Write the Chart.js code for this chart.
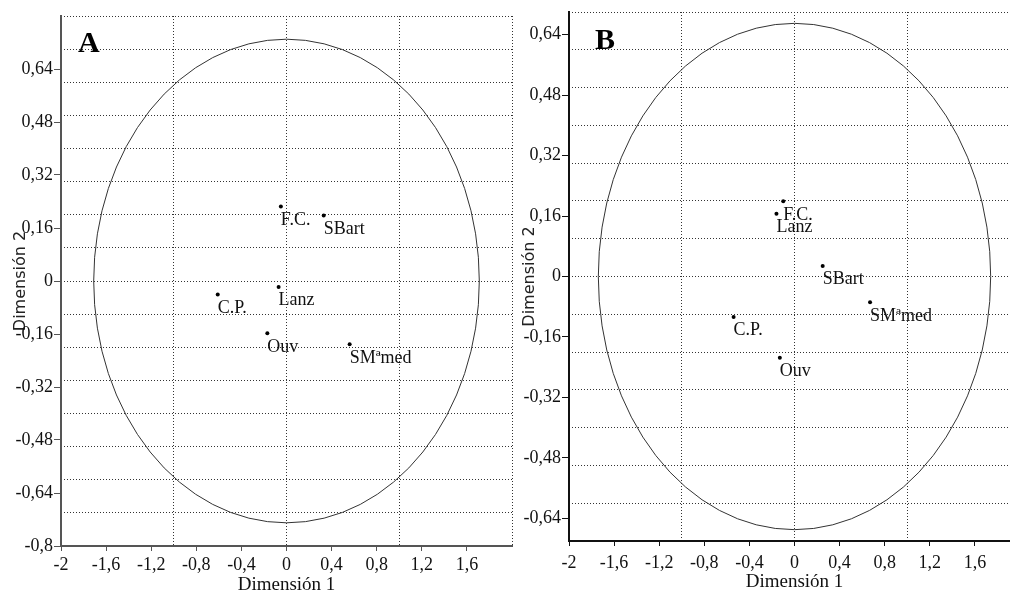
<!DOCTYPE html>
<html>
<head>
<meta charset="utf-8">
<script src="https://cdn.jsdelivr.net/npm/chart.js@4"></script>
<style>
    body { margin: 0; background: #fff; overflow: hidden; width: 1010px; height: 591px; position: relative; }
    .panel { position: absolute; top: 0; }
    #panelA { left: 0; }
    #panelB { left: 512px; }
</style>
</head>
<body>
<div class="panel" id="panelA"><canvas id="chartA" width="520" height="600"></canvas></div>
<div class="panel" id="panelB"><canvas id="chartB" width="518" height="600"></canvas></div>
<script>
// site names (same order in both panels)
const sites = ['F.C.', 'SBart', 'Lanz', 'C.P.', 'Ouv', 'SMªmed'];

// panel A coordinates
const dim1A = [-0.05, 0.33, -0.07, -0.61, -0.17, 0.56];
const dim2A = [0.225, 0.198, -0.018, -0.041, -0.158, -0.191];

// panel B coordinates
const dim1B = [-0.10, 0.25, -0.16, -0.54, -0.13, 0.67];
const dim2B = [0.199, 0.028, 0.166, -0.107, -0.215, -0.068];

// tick labels and grid positions
const xTicks = [-2, -1.6, -1.2, -0.8, -0.4, 0, 0.4, 0.8, 1.2, 1.6];
const xGrid = [-2, -1, 0, 1, 2];
const yTicksA = [-0.8, -0.64, -0.48, -0.32, -0.16, 0, 0.16, 0.32, 0.48, 0.64];
const yGridA = [-0.8, -0.7, -0.6, -0.5, -0.4, -0.3, -0.2, -0.1, 0, 0.1, 0.2, 0.3, 0.4, 0.5, 0.6, 0.7, 0.8];
const yTicksB = [-0.64, -0.48, -0.32, -0.16, 0, 0.16, 0.32, 0.48, 0.64];
const yGridB = [-0.7, -0.6, -0.5, -0.4, -0.3, -0.2, -0.1, 0, 0.1, 0.2, 0.3, 0.4, 0.5, 0.6, 0.7];

// confidence ellipse radii (dimension units)
const ellipseA = { rx: 1.71, ry: 0.73 };
const ellipseB = { rx: 1.74, ry: 0.67 };

const serif = "'Liberation Serif', 'Times New Roman', serif";
const sans = "'DejaVu Sans', Verdana, sans-serif";
const fmt = v => String(v).replace('.', ',');
const setTicks = values => scale => { scale.ticks = values.map(v => ({ value: v })); };

const ellipsePlugin = {
    id: 'ellipse',
    beforeDatasetsDraw(chart, args, opts) {
        const { ctx, scales: { x, y } } = chart;
        const cx = x.getPixelForValue(0);
        const cy = y.getPixelForValue(0);
        const rx = x.getPixelForValue(opts.rx) - cx;
        const ry = cy - y.getPixelForValue(opts.ry);
        ctx.save();
        ctx.strokeStyle = '#333';
        ctx.lineWidth = 1;
        ctx.beginPath();
        ctx.ellipse(cx, cy, rx, ry, 0, 0, Math.PI * 2);
        ctx.stroke();
        ctx.restore();
    }
};

const labelPlugin = {
    id: 'siteLabels',
    afterDatasetsDraw(chart, args, opts) {
        const { ctx } = chart;
        const meta = chart.getDatasetMeta(0);
        ctx.save();
        ctx.fillStyle = '#111';
        ctx.font = '18px ' + serif;
        ctx.textBaseline = 'alphabetic';
        ctx.textAlign = 'left';
        meta.data.forEach((pt, i) => {
            ctx.fillText(sites[i], pt.x, pt.y + 18.5);
        });
        // panel letter
        ctx.font = 'bold 30px ' + serif;
        ctx.fillStyle = '#000';
        ctx.fillText(opts.letter, opts.lx, opts.ly);
        ctx.restore();
    }
};

function buildPanel(id, p) {
    const axisColor = p.axisColor;
    new Chart(document.getElementById(id), {
        type: 'scatter',
        data: {
            datasets: [{
                data: p.d1.map((v, i) => ({ x: v, y: p.d2[i] })),
                pointRadius: 2,
                pointBorderWidth: 0,
                pointBackgroundColor: '#000'
            }]
        },
        options: {
            responsive: false,
            animation: false,
            layout: { padding: { top: p.top, right: p.right, left: 0, bottom: 0 } },
            plugins: {
                legend: { display: false },
                tooltip: { enabled: false },
                ellipse: p.ellipse,
                siteLabels: { letter: p.letter, lx: p.lx, ly: p.ly }
            },
            scales: {
                x: {
                    type: 'linear', position: 'bottom', min: -2, max: 2,
                    afterBuildTicks: setTicks(xTicks),
                    afterFit: s => { s.height = p.xHeight; },
                    grid: { drawOnChartArea: false, drawTicks: true, tickLength: 5, tickColor: axisColor, tickWidth: 1 },
                    border: { display: true, color: axisColor, width: 2 },
                    ticks: { callback: fmt, padding: p.xPad, color: '#111', font: { family: serif, size: 18 }, maxRotation: 0, autoSkip: false },
                    title: { display: true, text: 'Dimensión 1', color: '#111', font: { family: serif, size: 19 }, padding: { top: 0, bottom: p.xTitlePad } }
                },
                y: {
                    type: 'linear', position: 'left', min: p.yMin, max: p.yMax,
                    afterBuildTicks: setTicks(p.yTicks),
                    afterFit: s => { s.width = p.yWidth; },
                    grid: { drawOnChartArea: false, drawTicks: true, tickLength: 7, tickColor: axisColor, tickWidth: 1 },
                    border: { display: true, color: axisColor, width: 2 },
                    ticks: { callback: fmt, padding: 1, color: '#111', font: { family: serif, size: 18 }, autoSkip: false },
                    title: { display: true, text: 'Dimensión 2', color: '#222', font: { family: sans, size: 16 }, padding: { top: p.yTitlePad, bottom: 0 } }
                },
                xg: {
                    type: 'linear', position: 'top', min: -2, max: 2,
                    afterBuildTicks: setTicks(xGrid),
                    afterFit: s => { s.height = 0; },
                    ticks: { display: false },
                    border: { display: false, dash: [1, 2] },
                    grid: { drawTicks: false, color: '#333', lineWidth: 1 }
                },
                yg: {
                    type: 'linear', position: 'right', min: p.yMin, max: p.yMax,
                    afterBuildTicks: setTicks(p.yGrid),
                    afterFit: s => { s.width = 0; },
                    ticks: { display: false },
                    border: { display: false, dash: [1, 2] },
                    grid: { drawTicks: false, color: '#333', lineWidth: 1 }
                }
            }
        },
        plugins: [ellipsePlugin, labelPlugin]
    });
}

buildPanel('chartA', {
    d1: dim1A, d2: dim2A, yTicks: yTicksA, yGrid: yGridA, yMin: -0.8, yMax: 0.8,
    ellipse: ellipseA, letter: 'A', lx: 78, ly: 52,
    top: 16, right: 8, yWidth: 61, xHeight: 54, xPad: 3, xTitlePad: 4, yTitlePad: 11,
    axisColor: '#555'
});

buildPanel('chartB', {
    d1: dim1B, d2: dim2B, yTicks: yTicksB, yGrid: yGridB, yMin: -0.7, yMax: 0.7,
    ellipse: ellipseB, letter: 'B', lx: 83, ly: 49,
    top: 12, right: 10, yWidth: 57, xHeight: 59, xPad: 6, xTitlePad: 7, yTitlePad: 8,
    axisColor: '#111'
});
</script>
</body>
</html>
